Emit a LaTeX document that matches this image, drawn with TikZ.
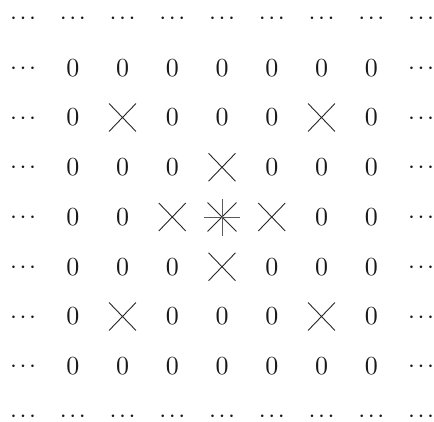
\documentclass[tikz,border=0pt]{standalone}
\usepackage{fontspec}
\newfontfamily\tenfont{lmroman10-regular.otf}
\usetikzlibrary{shapes.misc}
\newcommand\mydots{$\mathord{\cdot}\kern2.6pt\mathord{\cdot}\kern2.6pt\mathord{\cdot}$}
\newcommand\cellrow[2]{%
  \foreach \k [count=\i] in {#2} {%
    \if\k0
      \node[cell] (c-\i-#1) at (23+49.75*\i, 18+49.75*#1) {0};
    \else\if\k x
      \node[crossmark] (c-\i-#1) at (23+49.75*\i, 18+49.75*#1) {};
    \else
      \node[crossmark,minimum width=28pt,minimum height=28pt] (c-\i-#1) at (23+49.75*\i, 18+49.75*#1) {};
      \draw[starbar] (c-\i-#1.center) ++(0,-18.5) coordinate (st-\i-#1) -- ++(0,37) coordinate (sb-\i-#1);
      \draw[starbar] (c-\i-#1.center) ++(-18,0) coordinate (sl-\i-#1) -- ++(36,0) coordinate (sr-\i-#1);
    \fi\fi
  }%
}
\begin{document}
\begin{tikzpicture}[x=1pt,y=-1pt,
  cell/.style={inner sep=0pt,text=black!90,font=\tenfont\fontsize{26}{30}\selectfont},
  dotcell/.style={inner sep=0pt,anchor=base,text=black!90,font=\fontsize{26}{30}\selectfont},
  crossmark/.style={cross out,draw=black!85,line width=0.9pt,minimum width=26pt,minimum height=27pt,inner sep=0pt},
  starbar/.style={draw=black!65,line width=0.9pt}]
\useasboundingbox (0,0) rectangle (434,421);
\foreach \i in {0,...,8} {
  \node[dotcell] (t-\i) at (23+49.75*\i, 18+6.5) {\mydots};
  \node[dotcell] (b-\i) at (23+49.75*\i, 416+6.5) {\mydots};
}
\foreach \j in {1,...,7} {
  \node[dotcell] (l-\j) at (23, 18+49.75*\j+6.5) {\mydots};
  \node[dotcell] (r-\j) at (421, 18+49.75*\j+6.5) {\mydots};
}
\cellrow{1}{0,0,0,0,0,0,0}
\cellrow{2}{0,x,0,0,0,x,0}
\cellrow{3}{0,0,0,x,0,0,0}
\cellrow{4}{0,0,x,s,x,0,0}
\cellrow{5}{0,0,0,x,0,0,0}
\cellrow{6}{0,x,0,0,0,x,0}
\cellrow{7}{0,0,0,0,0,0,0}
\end{tikzpicture}
\end{document}
